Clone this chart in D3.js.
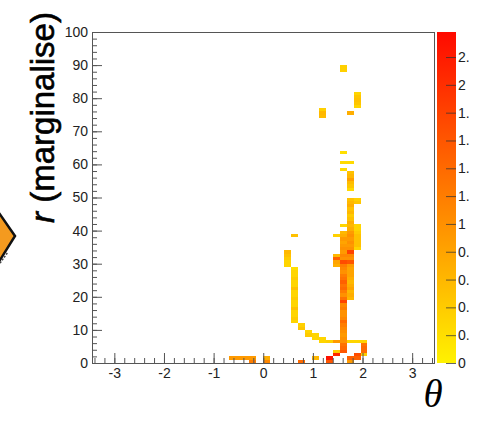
<!DOCTYPE html>
<html>
<head>
<meta charset="utf-8">
<title>r (marginalise) vs theta</title>
<script src="https://d3js.org/d3.v7.min.js"></script>
<style>
  body { margin: 0; background: #fff; }
  svg { display: block; }
</style>
</head>
<body>
<svg id="chart"></svg>
<script>
// bin widths of the 2D histogram
const thetaBin = 0.14;
const rBin = 1;

// runs of filled bins: [theta bin centre, first r bin, z values going up in r]
const baseRuns = [
  [-0.63, 1, [0.9]], [-0.49, 1, [0.9]], [-0.35, 1, [0.9]], [-0.21, 0, [1.2, 0.9]],
  [0.07, 0, [1.1, 0.7]],
  [0.77, 0, [1.4]],
  [1.05, 1, [0.6]],
  [1.33, 0, [1.6, 2.3]],
  [1.47, 2, [2.1, 0.4]],
  [1.75, 0, [0.9, 1.5]],
  [1.89, 1, [1.5, 1.7]],
  [2.03, 2, [0.4, 1.4, 1.4, 1.3, 0.3]]
];

const curveRuns = [
  [0.49, 29, [0.3, 0.3, 0.4, 0.5, 0.6]],
  [0.63, 12, [0.3, 0.4, 0.3, 0.3, 0.5, 0.3, 0.3, 0.4, 0.3, 0.3, 0.5, 0.3, 0.3, 0.4, 0.3, 0.3, 0.2]],
  [0.63, 38, [0.5]],
  [0.77, 10, [0.45, 0.35]],
  [0.91, 8, [0.4, 0.3]],
  [1.05, 7, [0.3, 0.3]],
  [1.19, 6, [0.3, 0.3]],
  [1.33, 6, [0.35]],
  [1.47, 6, [0.9]],
  [1.75, 6, [0.3]],
  [1.89, 6, [0.3]]
];

const columnRuns = [
  [1.47, 29, [0.7, 0.8, 1.5, 0.6]],
  [1.47, 38, [0.35]],
  [1.61, 3, [1.6, 1.4, 1.3, 1.0, 1.0, 0.9, 1.0, 1.1, 1.2, 1.4, 1.1, 1.0, 1.0, 1.2, 1.1, 1.8, 1.3, 1.0, 1.2,
             1.4, 1.3, 1.5, 1.3, 1.2, 1.0, 1.1, 1.2, 1.7, 1.0, 1.1, 0.9, 1.0, 0.9, 0.8, 0.9, 0.7, 0.6]],
  [1.61, 41, [0.3]],
  [1.75, 19, [0.6, 0.7, 0.6, 0.8, 0.7, 0.6, 0.7, 0.8, 0.8, 0.8, 0.9, 1.6, 1.0, 1.1, 1.8, 1.0, 0.9, 1.0,
              0.9, 1.0, 0.9, 0.7, 0.6, 0.7, 0.5, 0.4, 0.6, 0.5, 0.7, 0.6, 0.5]],
  [1.89, 34, [0.3, 0.5, 0.5, 0.5, 0.5, 0.4, 0.3, 0.3]],
  [1.89, 48, [0.45, 0.35]]
];

const upperRuns = [
  [1.61, 58, [0.25]], [1.61, 60, [0.25]], [1.61, 63, [0.2]], [1.61, 88, [0.35, 0.35]],
  [1.75, 52, [0.25, 0.45, 0.55, 0.85, 0.6, 0.5]], [1.75, 60, [0.25]], [1.75, 75, [0.7]],
  [1.19, 74, [0.55, 0.6, 0.35]],
  [1.89, 77, [0.3, 0.45, 0.5, 0.45, 0.3]]
];

const thetaTicks = [-3, -2, -1, 0, 1, 2, 3];
const rTicks = [0, 10, 20, 30, 40, 50, 60, 70, 80, 90, 100];
const zTicks = [0, 0.2, 0.4, 0.6, 0.8, 1, 1.2, 1.4, 1.6, 1.8, 2, 2.2];
const zMax = 2.38;

const width = 479, height = 421;
const frame = { left: 92, right: 434, top: 32, bottom: 363 };
const bar = { left: 437, right: 456 };
const font = "'Liberation Sans', Helvetica, Arial, sans-serif";

const svg = d3.select("#chart").attr("width", width).attr("height", height);

const x = d3.scaleLinear().domain([-3.45, 3.44]).range([frame.left, frame.right]);
const y = d3.scaleLinear().domain([0, 100]).range([frame.bottom, frame.top]);
const color = d3.scaleLinear().domain([0, zMax]).range(["#fff200", "#ff0a00"]);

// flatten runs into single bins
const cells = [];
[baseRuns, curveRuns, columnRuns, upperRuns].forEach(list => {
  list.forEach(([t, r0, zs]) => {
    zs.forEach((z, i) => cells.push({ t: t, r: r0 + i * rBin, z: z }));
  });
});

// left decoration (cut off piece of a neighbouring figure)
svg.append("polygon")
  .attr("points", "15,236 -10,200 -40,236 -10,276")
  .attr("fill", "#f49a1f")
  .attr("stroke", "#111")
  .attr("stroke-width", 2.5);
svg.append("line")
  .attr("x1", -2).attr("y1", 266).attr("x2", 8).attr("y2", 252)
  .attr("stroke", "#444").attr("stroke-width", 1.5).attr("stroke-dasharray", "2,1.5");

// histogram cells
svg.append("g")
  .selectAll("rect")
  .data(cells)
  .join("rect")
  .attr("x", d => x(d.t - thetaBin / 2))
  .attr("width", d => x(d.t + thetaBin / 2) - x(d.t - thetaBin / 2))
  .attr("y", d => y(d.r + rBin))
  .attr("height", d => y(d.r) - y(d.r + rBin))
  .attr("fill", d => color(d.z))
  .attr("shape-rendering", "crispEdges");

// frame
svg.append("rect")
  .attr("x", frame.left).attr("y", frame.top)
  .attr("width", frame.right - frame.left).attr("height", frame.bottom - frame.top)
  .attr("fill", "none").attr("stroke", "#555").attr("stroke-width", 1)
  .attr("shape-rendering", "crispEdges");

function styleAxis(g) {
  g.select(".domain").remove();
  g.selectAll(".tick line").attr("stroke", "#555");
  g.selectAll("text").attr("fill", "#222").style("font-family", font).style("font-size", "14px");
}

// x axis: minor then major ticks pointing up
svg.append("g")
  .attr("transform", `translate(0,${frame.bottom})`)
  .call(d3.axisBottom(x).tickValues(d3.range(-17, 18).map(v => v / 5)).tickSize(-5).tickFormat(""))
  .call(styleAxis);
svg.append("g")
  .attr("transform", `translate(0,${frame.bottom})`)
  .call(d3.axisBottom(x).tickValues(thetaTicks).tickSize(-10).tickPadding(5).tickFormat(d3.format("d")))
  .call(styleAxis)
  .call(g => g.selectAll("text").text(d => d < 0 ? "-" + Math.abs(d) : d));

// y axis: minor then major ticks pointing right
svg.append("g")
  .attr("transform", `translate(${frame.left},0)`)
  .call(d3.axisLeft(y).tickValues(d3.range(0, 101, 2)).tickSize(-5).tickFormat(""))
  .call(styleAxis);
svg.append("g")
  .attr("transform", `translate(${frame.left},0)`)
  .call(d3.axisLeft(y).tickValues(rTicks).tickSize(-10).tickPadding(4))
  .call(styleAxis);

// colour bar
const zy = d3.scaleLinear().domain([0, zMax]).range([frame.bottom, frame.top]);
const grad = svg.append("defs").append("linearGradient")
  .attr("id", "zgrad").attr("x1", 0).attr("y1", 1).attr("x2", 0).attr("y2", 0);
d3.range(0, 1.0001, 0.1).forEach(f => {
  grad.append("stop").attr("offset", f).attr("stop-color", color(f * zMax));
});
svg.select("defs").append("clipPath").attr("id", "edge")
  .append("rect").attr("x", 0).attr("y", 0).attr("width", 469).attr("height", height);

svg.append("rect")
  .attr("x", bar.left).attr("y", zy(zMax))
  .attr("width", bar.right - bar.left).attr("height", zy(0) - zy(zMax))
  .attr("fill", "url(#zgrad)");

svg.append("g")
  .attr("clip-path", "url(#edge)")
  .append("g")
  .attr("transform", `translate(${bar.right},0)`)
  .call(d3.axisRight(zy).tickValues(zTicks).tickSize(-10).tickPadding(2).tickFormat(d3.format("~g")))
  .call(styleAxis)
  .call(g => g.selectAll(".tick line").attr("stroke", "#333").attr("stroke-opacity", 0.75));

// axis titles
const yTitle = svg.append("text")
  .attr("transform", "translate(54,117.5) rotate(-90)")
  .attr("text-anchor", "middle")
  .style("font-family", font)
  .style("font-size", "33px")
  .attr("fill", "#000")
  .attr("stroke", "#000")
  .attr("stroke-width", 0.6);
yTitle.append("tspan").style("font-style", "italic").text("r");
yTitle.append("tspan").text(" (marginalise)");

svg.append("text")
  .attr("x", 433).attr("y", 407)
  .attr("text-anchor", "middle")
  .style("font-family", "'Liberation Serif', 'Times New Roman', serif")
  .style("font-style", "italic")
  .style("font-size", "39px")
  .attr("fill", "#000")
  .text("θ");
</script>
</body>
</html>
